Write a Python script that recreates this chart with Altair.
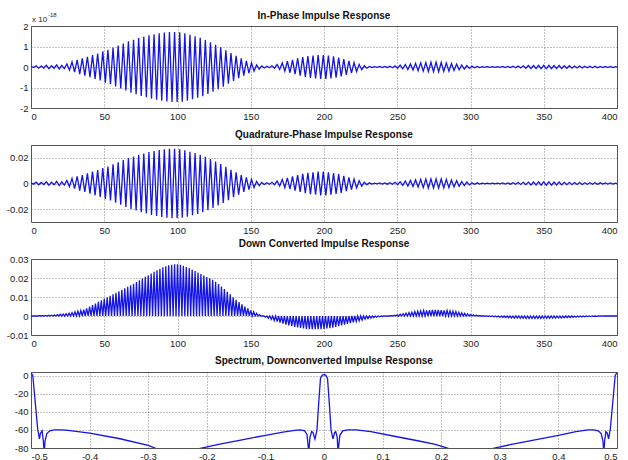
import altair as alt
import pandas as pd

BLUE = "#1414e6"
FONT = "Liberation Sans"

# ---- data ----
titles = ["In-Phase Impulse Response", "Quadrature-Phase Impulse Response",
          "Down Converted Impulse Response", "Spectrum, Downconverted Impulse Response"]

# In-phase: peak amplitude of each oscillation cycle (units of 1e-18), one cycle every 3.5 samples
env_i = [0.03, 0.06, 0.05, 0.08, 0.06, 0.1, 0.08, 0.15, 0.25, 0.35,
         0.42, 0.5, 0.58, 0.66, 0.76, 0.84, 0.95, 1.05, 1.15, 1.25,
         1.33, 1.41, 1.48, 1.55, 1.6, 1.65, 1.68, 1.71, 1.71, 1.69,
         1.64, 1.57, 1.5, 1.42, 1.32, 1.2, 1.08, 0.96, 0.82, 0.68,
         0.55, 0.42, 0.3, 0.2, 0.1, 0.05, 0.04, 0.06, 0.12, 0.2,
         0.28, 0.35, 0.42, 0.48, 0.53, 0.56, 0.58, 0.58, 0.56, 0.52,
         0.46, 0.38, 0.3, 0.22, 0.13, 0.06, 0.03, 0.02, 0.03, 0.03,
         0.04, 0.06, 0.09, 0.12, 0.15, 0.18, 0.2, 0.22, 0.23, 0.23,
         0.22, 0.2, 0.17, 0.14, 0.1, 0.07, 0.04, 0.03, 0.02, 0.02,
         0.02, 0.02, 0.03, 0.03, 0.04, 0.05, 0.06, 0.07, 0.07, 0.08,
         0.08, 0.08, 0.07, 0.07, 0.06, 0.06, 0.05, 0.05, 0.04, 0.04,
         0.04, 0.03, 0.03, 0.03, 0.02]

# Quadrature: peak amplitude per cycle, in units of 1e-3
env_q_milli = [0.5, 1.0, 0.8, 1.3, 1.0, 1.6, 1.3, 2.4, 4.0, 5.5,
               6.6, 7.9, 9.2, 10.4, 12.0, 13.3, 15.0, 16.6, 18.2, 19.8,
               21.0, 22.3, 23.4, 24.5, 25.3, 26.1, 26.6, 27.0, 27.0, 26.7,
               25.9, 24.8, 23.7, 22.4, 20.9, 19.0, 17.1, 15.2, 13.0, 10.7,
               8.7, 6.6, 4.7, 3.2, 1.6, 0.8, 0.6, 0.9, 1.9, 3.2,
               4.4, 5.5, 6.6, 7.6, 8.4, 8.8, 9.2, 9.2, 8.8, 8.2,
               7.3, 6.0, 4.7, 3.5, 2.1, 0.9, 0.5, 0.3, 0.5, 0.5,
               0.6, 0.9, 1.4, 1.9, 2.4, 2.8, 3.2, 3.5, 3.6, 3.6,
               3.5, 3.2, 2.7, 2.2, 1.6, 1.1, 0.6, 0.5, 0.3, 0.3,
               0.3, 0.3, 0.5, 0.5, 0.6, 0.8, 0.9, 1.1, 1.1, 1.3,
               1.3, 1.3, 1.1, 1.1, 0.9, 0.9, 0.8, 0.8, 0.6, 0.6,
               0.6, 0.5, 0.5, 0.5, 0.3]

# Down converted: envelope every 2 samples (units of 1e-3), signal swings between 0 and it
dc_env_milli = [0, 0.05, 0.1, 0.15, 0.2, 0.3, 0.35, 0.45, 0.55, 0.7,
                0.9, 1.05, 1.25, 1.5, 1.8, 2.1, 2.5, 2.9, 3.4, 4.0,
                5.0, 5.8, 6.6, 7.4, 8.2, 9.0, 9.8, 10.6, 11.4, 12.2,
                13.0, 13.8, 14.6, 15.4, 16.2, 17.0, 17.9, 18.8, 19.7, 20.6,
                21.5, 22.4, 23.3, 24.1, 24.9, 25.6, 26.2, 26.7, 27.0, 27.2,
                27.2, 26.9, 26.4, 25.8, 25.2, 24.5, 23.7, 22.9, 22.1, 21.3,
                20.5, 19.8, 19.0, 18.0, 16.8, 15.5, 14.2, 12.8, 11.4, 9.9,
                8.5, 7.3, 6.1, 5.0, 4.0, 3.0, 2.2, 1.4, 0.7, 0.0,
                -0.6, -1.2, -1.8, -2.4, -3.0, -3.5, -4.0, -4.5, -4.9, -5.3,
                -5.7, -6.0, -6.3, -6.6, -6.8, -6.9, -7.0, -7.0, -7.0, -6.9,
                -6.8, -6.6, -6.4, -6.1, -5.8, -5.4, -5.0, -4.6, -4.2, -3.7,
                -3.3, -2.9, -2.5, -2.1, -1.7, -1.4, -1.1, -0.8, -0.6, -0.4,
                -0.2, -0.1, 0.0, 0.2, 0.4, 0.6, 0.9, 1.2, 1.5, 1.8,
                2.0, 2.3, 2.5, 2.7, 2.9, 3.0, 3.1, 3.2, 3.2, 3.2,
                3.1, 3.0, 2.9, 2.7, 2.5, 2.3, 2.0, 1.7, 1.4, 1.1,
                0.8, 0.6, 0.4, 0.2, 0.0, -0.1, -0.2, -0.3, -0.4, -0.5,
                -0.6, -0.7, -0.8, -0.9, -1.0, -1.1, -1.1, -1.2, -1.2, -1.3,
                -1.3, -1.3, -1.3, -1.3, -1.3, -1.2, -1.2, -1.2, -1.1, -1.1,
                -1.0, -1.0, -0.9, -0.8, -0.8, -0.7, -0.6, -0.5, -0.5, -0.4,
                -0.3, -0.3, -0.2, -0.2, -0.1, -0.1, 0.0, 0.0, 0.0, 0.0,
                0.0]

# Spectrum (normalised frequency, dB)
spec_f = [-0.5, -0.497, -0.4886, -0.4866, -0.4857, -0.484, -0.481, -0.479, -0.4775, -0.476,
          -0.473, -0.468, -0.46, -0.45, -0.44, -0.40, -0.35, -0.30, -0.285, -0.25,
          -0.215, -0.18, -0.14, -0.10, -0.07, -0.05, -0.04, -0.033, -0.029, -0.026,
          -0.024, -0.021, -0.019, -0.0155, -0.014, -0.012, -0.009, -0.006, -0.003, 0.0,
          0.003, 0.006, 0.009, 0.012, 0.014, 0.0155, 0.018, 0.02, 0.0225, 0.024,
          0.027, 0.032, 0.04, 0.055, 0.08, 0.12, 0.16, 0.19, 0.215, 0.25,
          0.285, 0.32, 0.36, 0.40, 0.43, 0.45, 0.46, 0.468, 0.473, 0.476,
          0.4775, 0.479, 0.481, 0.483, 0.4857, 0.4866, 0.4886, 0.497, 0.5]
spec_db = [3, 0.5, -59, -66, -70, -64, -61, -72, -85, -72,
           -64, -61, -60, -60, -60.3, -63.6, -69.5, -77, -81, -84,
           -81, -76, -71, -66, -62.5, -60.5, -60, -61, -65, -85,
           -68, -62, -62.5, -70, -66, -60, -30, -3, 0.5, 1,
           0.5, -3, -30, -60, -66, -70, -63, -62, -68, -85,
           -66, -61, -60, -60, -62, -67, -72, -76, -81, -84,
           -81, -76, -71, -66, -62, -60, -60, -61, -64, -72,
           -85, -72, -62, -63, -70, -66, -59, 0.5, 3]

x_ticks = [0, 50, 100, 150, 200, 250, 300, 350, 400]
i_ticks = [-2, -1, 0, 1, 2]
q_ticks = [-0.02, 0, 0.02]
dc_ticks = [-0.01, 0, 0.01, 0.02, 0.03]
sp_x_ticks = [-0.5, -0.4, -0.3, -0.2, -0.1, 0, 0.1, 0.2, 0.3, 0.4, 0.5]
sp_y_ticks = [-80, -60, -40, -20, 0]
exp_base = ["x 10"]
exp_power = ["-18"]

# ---- build tables ----
def zigzag(env, step, scale):
    xs, ys = [], []
    for k, a in enumerate(env):
        xs += [k * step, k * step + step / 2]
        ys += [a * scale, -a * scale]
    return pd.DataFrame({"x": xs, "y": ys})

df_i = zigzag(env_i, 3.5, 1.0)
df_q = zigzag(env_q_milli, 3.5, 1e-3)
dc_x, dc_y = [], []
for k, v in enumerate(dc_env_milli):
    dc_x += [2 * k, 2 * k + 1]
    dc_y += [v * 1e-3, 0.0]
df_dc = pd.DataFrame({"x": dc_x, "y": dc_y})
df_sp = pd.DataFrame({"x": spec_f, "y": spec_db})

W = 586
LBL = "'' + datum.value"


def panel(df, xdom, xt, ydom, yt, h, sw=1.2):
    return alt.Chart(df).mark_line(color=BLUE, strokeWidth=sw, clip=True).encode(
        x=alt.X("x:Q", scale=alt.Scale(domain=xdom, nice=False, zero=False),
                axis=alt.Axis(values=xt, title=None, labelExpr=LBL)),
        y=alt.Y("y:Q", scale=alt.Scale(domain=ydom, nice=False, zero=False),
                axis=alt.Axis(values=yt, title=None, labelExpr=LBL, minExtent=25)),
    ).properties(width=W, height=h)


def titled(ch, t, off=5):
    return ch.properties(title=alt.Title(t, fontSize=10, fontWeight="bold", font=FONT,
                                         color="#111", offset=off))


p1 = panel(df_i, [0, 400], x_ticks, [-2, 2], i_ticks, 82, 1.3)
e1 = alt.Chart(pd.DataFrame({"t": exp_base})).mark_text(
    align="left", baseline="alphabetic", fontSize=8, font=FONT, color="#222"
).encode(x=alt.value(1), y=alt.value(-4), text="t:N")
e2 = alt.Chart(pd.DataFrame({"t": exp_power})).mark_text(
    align="left", baseline="alphabetic", fontSize=6, font=FONT, color="#222"
).encode(x=alt.value(17), y=alt.value(-9), text="t:N")
c1 = titled(alt.layer(p1, e1, e2), titles[0], -9)
c2 = titled(panel(df_q, [0, 400], x_ticks, [-0.03, 0.03], q_ticks, 77, 1.3), titles[1])
c3 = titled(panel(df_dc, [0, 400], x_ticks, [-0.01, 0.03], dc_ticks, 76, 1.3), titles[2])
c4 = titled(panel(df_sp, [-0.5, 0.5], sp_x_ticks, [-80, 4], sp_y_ticks, 76, 1.3), titles[3])

chart = alt.vconcat(c1, c2, c3, c4, spacing=37, bounds="flush").properties(
    padding={"left": 5, "top": 10, "right": 10, "bottom": 2},
).configure_view(
    stroke="#555", strokeWidth=1
).configure_axis(
    labelFont=FONT, labelFontSize=9.5, labelColor="#222",
    grid=True, gridColor="#555", gridDash=[1, 2], gridWidth=0.8, gridOpacity=0.9,
    domain=False, ticks=False, labelPadding=3,
)

chart.save("out.html", embed_options={"renderer": "svg", "actions": False})
